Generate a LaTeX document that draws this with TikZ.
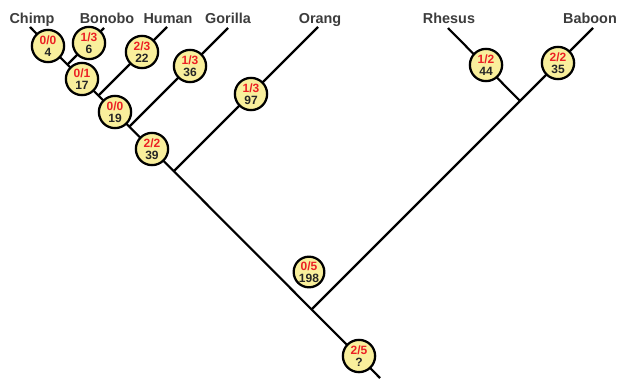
\documentclass[tikz,border=0pt]{standalone}
\usepackage{fontspec}
\setmainfont{Liberation Sans}
\definecolor{bubfill}{RGB}{249,239,156}
\definecolor{labgray}{RGB}{60,60,60}
\definecolor{numred}{RGB}{236,32,36}
\newcommand\redtxt[1]{\textcolor{numred}{#1}}
\tikzset{
  br/.style={line width=1.6pt, black},
  bub/.style={circle, draw=black, line width=1.7pt, fill=bubfill,
    minimum size=24.2pt, inner sep=0pt, align=center,
    font=\bfseries\fontsize{9}{8.8}\selectfont, text=black!85},
  taxon/.style={anchor=base, font=\bfseries\fontsize{10.8}{12}\selectfont, text=labgray}
}
\begin{document}
\begin{tikzpicture}[x=0.75pt, y=-0.75pt]
\useasboundingbox (0,0) rectangle (618,382);

% leaf tips, branch points and the root end
\coordinate (tChimp)   at (30,27);
\coordinate (tBonobo)  at (104,28);
\coordinate (tHuman)   at (167,27);
\coordinate (tGorilla) at (228,28);
\coordinate (tOrang)   at (318,27);
\coordinate (tRhesus)  at (448,28);
\coordinate (tBaboon)  at (593,28);
\coordinate (j1) at (67.5,64.5);
\coordinate (j2) at (98.5,95.5);
\coordinate (j3) at (129.5,126.5);
\coordinate (j4) at (174,171);
\coordinate (j5) at (312,309);
\coordinate (jm) at (520,101);
\coordinate (root) at (380,378);

% branches
\draw[br] (tChimp) -- (root);
\draw[br] (tBonobo) -- (j1);
\draw[br] (tHuman) -- (j2);
\draw[br] (tGorilla) -- (j3);
\draw[br] (tOrang) -- (j4);
\draw[br] (tRhesus) -- (jm);
\draw[br] (tBaboon) -- (j5);

% taxon names
\node[taxon] (nChimp)   at (32,23)  {Chimp};
\node[taxon] (nBonobo)  at (107,23) {Bonobo};
\node[taxon] (nHuman)   at (168,23) {Human};
\node[taxon] (nGorilla) at (228,23) {Gorilla};
\node[taxon] (nOrang)   at (320,23) {Orang};
\node[taxon] (nRhesus)  at (449,23) {Rhesus};
\node[taxon] (nBaboon)  at (590,23) {Baboon};

% counts on the branches
\node[bub] (bChimp)   at (48,46)   {\redtxt{0/0}\\4};
\node[bub] (bBonobo)  at (89,43)   {\redtxt{1/3}\\6};
\node[bub] (bHuman)   at (142,52)  {\redtxt{2/3}\\22};
\node[bub] (bGorilla) at (190,66)  {\redtxt{1/3}\\36};
\node[bub] (bOrang)   at (251,94)  {\redtxt{1/3}\\97};
\node[bub] (bCB)      at (82,79)   {\redtxt{0/1}\\17};
\node[bub] (bCBH)     at (115,112) {\redtxt{0/0}\\19};
\node[bub] (bCBHG)    at (152,149) {\redtxt{2/2}\\39};
\node[bub, minimum size=23pt] (bApes) at (309,272) {\redtxt{0/5}\\198};
\node[bub] (bRoot)    at (359,356) {\redtxt{2/5}\\?};
\node[bub] (bRhesus)  at (486,65)  {\redtxt{1/2}\\44};
\node[bub] (bBaboon)  at (558,63)  {\redtxt{2/2}\\35};
\end{tikzpicture}
\end{document}
